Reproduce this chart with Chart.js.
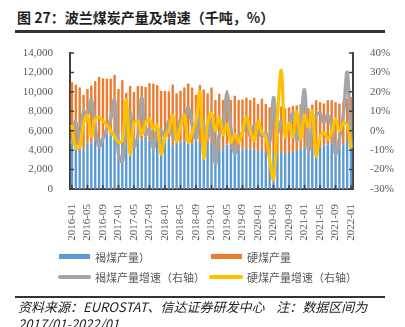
<!DOCTYPE html>
<html>
<head>
<meta charset="utf-8">
<script src="https://cdn.jsdelivr.net/npm/chart.js@4.4.0/dist/chart.umd.min.js"></script>
<style>
  body { margin: 0; width: 405px; height: 327px; overflow: hidden; background: #fff; position: relative; font-family: "Noto Sans CJK SC", sans-serif; }
  #title { position: absolute; left: 17px; top: 7px; font-size: 14px; line-height: 20px; font-weight: bold; color: #1f1f1f; white-space: nowrap; }
  .rule { position: absolute; left: 15px; width: 370px; background: #333; }
  #box { position: absolute; left: 0; top: 0; width: 405px; height: 327px; }
  .sw { position: absolute; }
  .lg { position: absolute; font-size: 11px; line-height: 14px; color: #595959; white-space: nowrap; }
  #source { position: absolute; left: 18px; top: 298px; font-size: 13px; line-height: 17px; font-style: italic; color: #222; white-space: nowrap; }
</style>
</head>
<body>
<div id="title">图 27：波兰煤炭产量及增速（千吨，%）</div>
<div class="rule" style="top:30px;height:3px"></div>
<div id="box"><canvas id="myChart"></canvas></div>

<div class="sw" style="left:59px;top:254px;width:31px;height:5px;background:#5b9bd5"></div>
<div class="lg" style="left:95px;top:250px">褐煤产量）</div>
<div class="sw" style="left:211px;top:254px;width:31px;height:5px;background:#ed7d31"></div>
<div class="lg" style="left:247px;top:250px">硬煤产量</div>
<div class="sw" style="left:58px;top:275px;width:33px;height:3.5px;border-radius:2px;background:#a5a5a5"></div>
<div class="lg" style="left:95px;top:270px">褐煤产量增速（右轴）</div>
<div class="sw" style="left:209px;top:275px;width:34px;height:3.5px;border-radius:2px;background:#ffc000"></div>
<div class="lg" style="left:247px;top:270px">硬煤产量增速（右轴）</div>

<div class="rule" style="top:296px;height:2px"></div>
<div id="source">资料来源：EUROSTAT、信达证券研发中心&nbsp;&nbsp;&nbsp;&nbsp;注：数据区间为<br>2017/01-2022/01</div>

<script>
// 月份
var labels = [
  '2016-01','2016-02','2016-03','2016-04','2016-05','2016-06','2016-07','2016-08','2016-09','2016-10','2016-11','2016-12',
  '2017-01','2017-02','2017-03','2017-04','2017-05','2017-06','2017-07','2017-08','2017-09','2017-10','2017-11','2017-12',
  '2018-01','2018-02','2018-03','2018-04','2018-05','2018-06','2018-07','2018-08','2018-09','2018-10','2018-11','2018-12',
  '2019-01','2019-02','2019-03','2019-04','2019-05','2019-06','2019-07','2019-08','2019-09','2019-10','2019-11','2019-12',
  '2020-01','2020-02','2020-03','2020-04','2020-05','2020-06','2020-07','2020-08','2020-09','2020-10','2020-11','2020-12',
  '2021-01','2021-02','2021-03','2021-04','2021-05','2021-06','2021-07','2021-08','2021-09','2021-10','2021-11','2021-12',
  '2022-01'
];

// 褐煤产量（千吨）
var brownCoal = [
  4950, 4500, 4200, 4000, 4700, 4800, 5000, 5200, 5400, 5600, 5500, 5800,
  5500, 5300, 4600, 5000, 5200, 5300, 5100, 5400, 5000, 5100, 5000, 5300,
  4800, 5200, 4500, 4700, 4800, 5000, 4900, 4700, 5000, 4800, 4500, 4900,
  4700, 4000, 4300, 4100, 4600, 4200, 4300, 4100, 4000, 4200, 4100, 4100,
  3800, 4200, 3800, 3300, 3800, 3600, 3800, 3600, 3700, 3900, 4000, 4100,
  4300, 3700, 4200, 4500, 4300, 4500, 4600, 4700, 4500, 4200, 4600, 5100,
  4300
];

// 硬煤产量（千吨）
var hardCoal = [
  6050, 6250, 6250, 5700, 5600, 5850, 6100, 6350, 6000, 5750, 5850, 5950,
  4800, 5900, 5300, 5600, 4800, 5300, 5500, 5100, 5900, 5750, 5700, 4800,
  5300, 4850, 6250, 5150, 5300, 5450, 5950, 5750, 4700, 5900, 5750, 4950,
  5750, 5150, 5500, 5050, 5550, 4950, 5300, 5050, 5200, 5200, 5050, 5300,
  4950, 5100, 4950, 5100, 4300, 4800, 4700, 4700, 4700, 4650, 4600, 4600,
  4430, 4600, 4500, 4640, 4650, 4300, 4540, 4440, 4450, 4600, 4400, 4200,
  5180
];

// 增速（%）
var brownGrowth = [
  -7, 5, -8, 10, 8, 16, 2, -8, -4, 1, 6, 16,
  -12, -16, 2, 10, -8, -3, 17, -2, 1, -9, 0, 0,
  -3, 5, -3, -4, 6, 6, 12, 3, -4, 7, 3, -4,
  6, -17, -2, 2, 19, 1, -12, -3, -1, 5, -3, 3,
  1, -3, -1, -6, 17, -1, 5, -2, 2, 9, -5, 5,
  21, -10, 2, 8, 9, 4, 8, 2, -12, -4, 8, 30,
  -8
];

var hardGrowth = [
  3, -9, -8, 4, 8, -3, 6, 7, 5, 3, 0, -3,
  -6, -5, 16, -12, 4, 5, -2, 4, 6, 1, 3, -12,
  -3, 0, 8, -5, 2, 8, -6, -1, 5, 20, -14, 4,
  9, 0, 7, -2, 3, -6, -2, -6, 0, 7, 0, -5,
  5, -1, -3, -15, -25, 7, 31, -3, 4, -3, 10, -4,
  8, 2, 10, -13, -3, -1, -4, -1, 6, 0, 4, 3,
  -9
];

var axisColor = '#404040';
var tickFont = { family: '"Liberation Serif", "Times New Roman", serif', size: 11 };

// 轴上朝内的小刻度
var innerTicks = {
  id: 'innerTicks',
  afterDraw: function(chart) {
    var c = chart.ctx, a = chart.chartArea, s = chart.scales;
    c.save();
    c.strokeStyle = axisColor;
    c.lineWidth = 1.5;
    c.beginPath();
    s.y.ticks.forEach(function(t) {
      var y = s.y.getPixelForValue(t.value);
      c.moveTo(a.left, y); c.lineTo(a.left + 4, y);
    });
    s.y2.ticks.forEach(function(t) {
      var y = s.y2.getPixelForValue(t.value);
      c.moveTo(a.right - 4, y); c.lineTo(a.right, y);
    });
    for (var i = 0; i < labels.length; i += 4) {
      var x = s.x.getPixelForValue(i);
      c.moveTo(x, a.bottom); c.lineTo(x, a.bottom - 4);
    }
    c.stroke();
    c.restore();
  }
};

var ctx = document.getElementById('myChart').getContext('2d');
var myChart = new Chart(ctx, {
  type: 'bar',
  data: {
    labels: labels,
    datasets: [
      { label: '褐煤产量', data: brownCoal, backgroundColor: '#5b9bd5', yAxisID: 'y', order: 3,
        categoryPercentage: 0.8, barPercentage: 0.78 },
      { label: '硬煤产量', data: hardCoal, backgroundColor: '#ed7d31', yAxisID: 'y', order: 3,
        categoryPercentage: 0.8, barPercentage: 0.78 },
      { type: 'line', label: '褐煤产量增速（右轴）', data: brownGrowth, borderColor: '#a5a5a5',
        borderWidth: 3.5, pointRadius: 0, tension: 0.35, yAxisID: 'y2', order: 2 },
      { type: 'line', label: '硬煤产量增速（右轴）', data: hardGrowth, borderColor: '#ffc000',
        borderWidth: 3.2, pointRadius: 0, tension: 0.35, yAxisID: 'y2', order: 1 }
    ]
  },
  options: {
    responsive: true,
    maintainAspectRatio: false,
    animation: false,
    layout: { padding: { top: 53, bottom: 0, left: 0, right: 0 } },
    plugins: { legend: { display: false }, tooltip: { enabled: false } },
    scales: {
      x: {
        stacked: true,
        grid: { display: false },
        border: { color: axisColor, width: 2 },
        ticks: {
          autoSkip: false, minRotation: 90, maxRotation: 90, padding: 7,
          color: '#595959', font: tickFont,
          callback: function(v, i) { return i % 4 === 0 ? labels[i] : ''; }
        },
        afterFit: function(s) { s.height = 138; }
      },
      y: {
        stacked: true,
        position: 'left',
        min: 0, max: 14000,
        grid: { display: false },
        border: { color: axisColor, width: 2 },
        ticks: {
          stepSize: 2000, padding: 9, color: '#595959', font: tickFont,
          callback: function(v) { return v.toLocaleString('en-US'); }
        },
        afterFit: function(s) { s.width = 70; }
      },
      y2: {
        position: 'right',
        min: -30, max: 40,
        grid: { display: false },
        border: { color: axisColor, width: 2 },
        ticks: {
          stepSize: 10, padding: 9, color: '#595959', font: tickFont,
          callback: function(v) { return v + '%'; }
        },
        afterFit: function(s) { s.width = 52; }
      }
    }
  },
  plugins: [innerTicks]
});
</script>
</body>
</html>
